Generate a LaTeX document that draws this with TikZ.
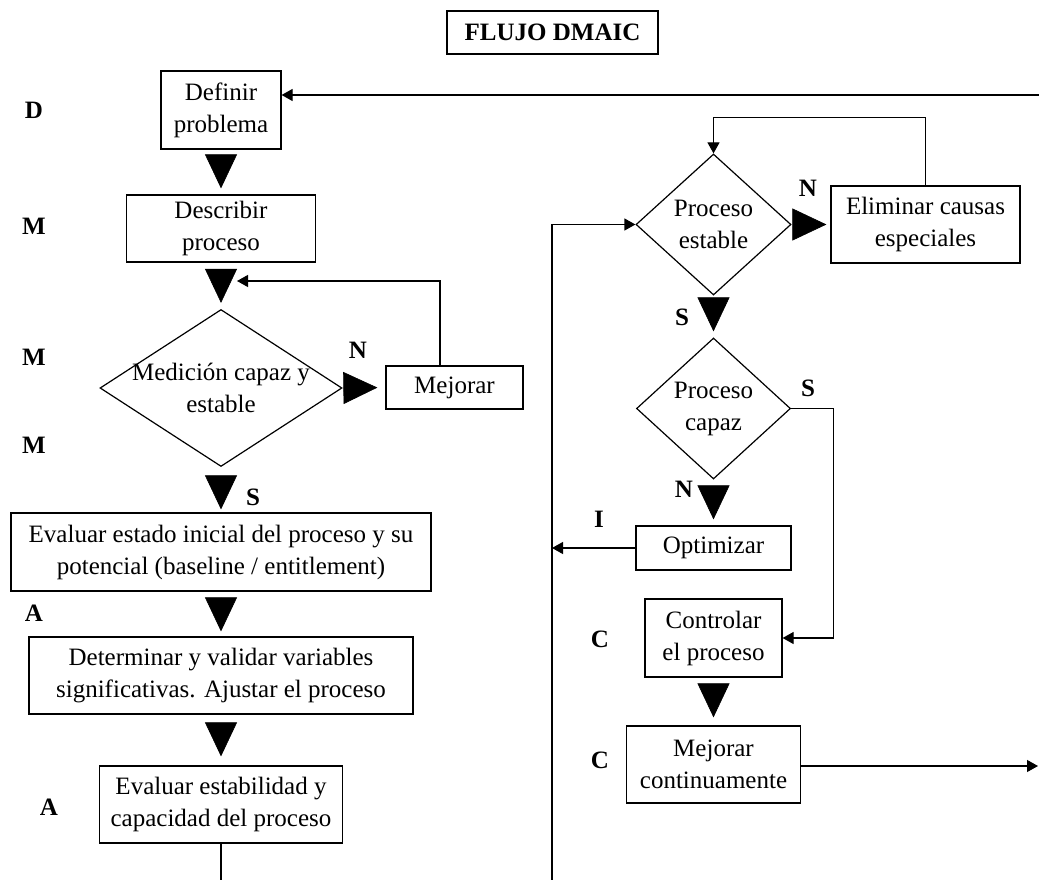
\documentclass[tikz,border=0pt]{standalone}
\usepackage{fontspec}
\setmainfont{Liberation Serif}
\usetikzlibrary{arrows.meta,shapes.geometric}
\begin{document}
\begin{tikzpicture}[x=1pt,y=-1pt,
  every node/.style={font=\fontsize{25}{32}\selectfont, inner sep=0pt},
  box/.style={draw, line width=1.2pt, align=center},
  dia/.style={draw, diamond, line width=1.2pt},
  txt/.style={align=center},
  lbl/.style={font=\fontsize{25}{32}\selectfont\bfseries},
  line/.style={line width=1.2pt},
  conn/.style={line width=1.2pt, -{Triangle[length=11pt,width=12pt]}},
  bigtri/.style={line width=0.6pt, -{Triangle[length=34pt,width=32pt]}},
]
\useasboundingbox (0,0) rectangle (1039,880);

% title
\node[box, minimum width=211pt, minimum height=43pt,
      font=\fontsize{25}{32}\selectfont\bfseries] (title) at (552.5,32.5) {FLUJO DMAIC};

% left column
\node[box, minimum width=120pt, minimum height=78pt] (def)  at (221,110)   {Definir\\problema};
\node[box, minimum width=189pt, minimum height=67pt] (desc) at (221,228.5) {Describir\\proceso};
\node[dia, minimum width=242pt, minimum height=157pt] (med) at (221,388) {};
\node[txt] (medt) at (med) {Medición capaz y\\estable};
\node[box, minimum width=137pt, minimum height=43pt] (mej)  at (454.5,387.5) {Mejorar};
\node[box, minimum width=420pt, minimum height=78pt] (evi)  at (221,552) {Evaluar estado inicial del proceso y su\\potencial (baseline / entitlement)};
\node[box, minimum width=384pt, minimum height=77pt] (det)  at (221,675.5) {Determinar y validar variables\\significativas. Ajustar el proceso};
\node[box, minimum width=243pt, minimum height=77pt] (eve)  at (221,804.5) {Evaluar estabilidad y\\capacidad del proceso};

% right column
\node[dia, minimum width=155pt, minimum height=141pt] (est) at (713.5,224.5) {};
\node[txt] (estt) at (est) {Proceso\\estable};
\node[box, minimum width=189pt, minimum height=77pt] (elim) at (925.5,224.5) {Eliminar causas\\especiales};
\node[dia, minimum width=154pt, minimum height=141pt] (cap) at (713.5,408.5) {};
\node[txt] (capt) at (cap) {Proceso\\capaz};
\node[box, minimum width=155pt, minimum height=44pt] (opt) at (713.5,548) {Optimizar};
\node[box, minimum width=137pt, minimum height=78pt] (ctl) at (713.5,638) {Controlar\\el proceso};
\node[box, minimum width=174pt, minimum height=77pt] (mc)  at (713.5,764.5) {Mejorar\\continuamente};

% phase letters and answers
\node[lbl] (lD)  at (34,110) {D};
\node[lbl] (lM1) at (34,226) {M};
\node[lbl] (lM2) at (34,357) {M};
\node[lbl] (lM3) at (34,445) {M};
\node[lbl] (lA1) at (34,613) {A};
\node[lbl] (lA2) at (49,807) {A};
\node[lbl] (lI)  at (599,519) {I};
\node[lbl] (lC1) at (600,639) {C};
\node[lbl] (lC2) at (600,760) {C};
\node[lbl] (aN1) at (358,350) {N};
\node[lbl] (aS1) at (253,497) {S};
\node[lbl] (aN2) at (808,188) {N};
\node[lbl] (aS2) at (682,317) {S};
\node[lbl] (aS3) at (808,388) {S};
\node[lbl] (aN3) at (684,489) {N};

% free ends at the picture's border
\coordinate (inD)  at (1039,95);
\coordinate (outR) at (1038,766);
\coordinate (lb)   at (552,880);
\coordinate (bot)  at (221,880);
\coordinate (fb1)  at (237,281);

% big flow triangles
\draw[bigtri, shorten <=5pt,  shorten >=6pt] (def.south)  -- (desc.north);
\draw[bigtri, shorten <=7pt,  shorten >=6pt] (desc.south) -- (med.north);
\draw[bigtri, shorten <=10pt, shorten >=3pt] (med.south)  -- (evi.north);
\draw[bigtri, shorten <=6pt,  shorten >=5pt] (evi.south)  -- (det.north);
\draw[bigtri, shorten <=9pt,  shorten >=9pt] (det.south)  -- (eve.north);
\draw[bigtri, shorten <=5pt,  shorten >=8pt] (med.east)   -- (mej.west);
\draw[bigtri, shorten <=4pt,  shorten >=4pt] (est.east)   -- (elim.west);
\draw[bigtri, shorten <=2pt,  shorten >=6pt] (est.south)  -- (cap.north);
\draw[bigtri, shorten <=7pt,  shorten >=6pt] (cap.south)  -- (opt.north);
\draw[bigtri, shorten <=7pt,  shorten >=8pt] (ctl.south)  -- (mc.north);

% thin connectors
\draw[conn] (inD) -- (inD -| def.east);
\draw[conn] ([xshift=-14.5pt]mej.north) |- (fb1);
\draw[conn] (elim.north) -- ++(0,-68) -| (est.north);
\draw[conn] (lb) |- (est.west);
\draw[conn] (opt.west) -- (opt.west -| lb);
\draw[conn] (cap.east) -- ++(42,0) |- (ctl.east);
\draw[conn] (mc.east |- outR) -- (outR);
\draw[line] (eve.south) -- (bot);
\end{tikzpicture}
\end{document}
